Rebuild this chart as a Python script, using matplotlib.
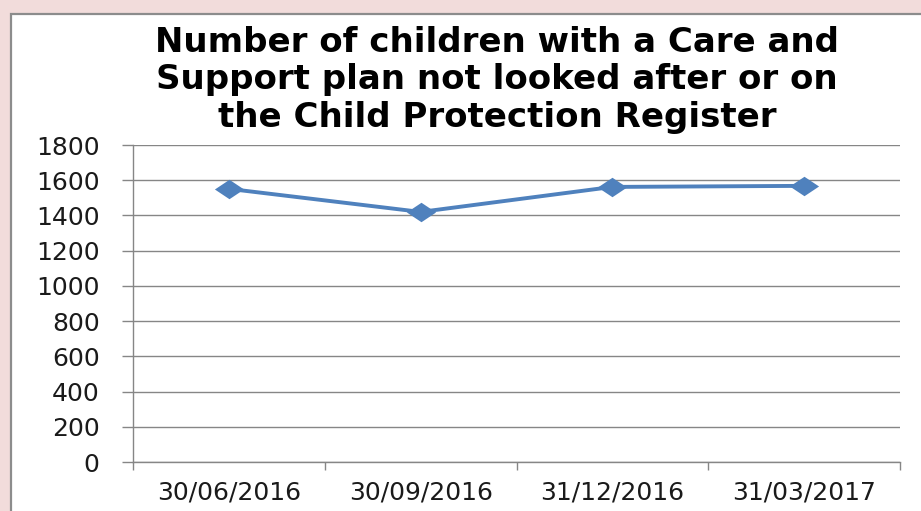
import matplotlib
matplotlib.use("Agg")
import matplotlib.pyplot as plt
from matplotlib.patches import Rectangle
from matplotlib.path import Path

categories = ["30/06/2016", "30/09/2016", "31/12/2016", "31/03/2017"]
values = [1551, 1420, 1562, 1568]
yticks = [0, 200, 400, 600, 800, 1000, 1200, 1400, 1600, 1800]
title_lines = ["Number of children with a Care and",
               "Support plan not looked after or on",
               "the Child Protection Register"]

W, H = 921, 511
fig = plt.figure(figsize=(W / 100, H / 100), dpi=100)
fig.patch.set_facecolor("#f2dcdb")

# chart frame
fig.patches.append(Rectangle((11 / W, -0.1), 1.2, 1 - 14 / H + 0.1,
                             transform=fig.transFigure, facecolor="white",
                             edgecolor="#8c8c8c", linewidth=1.6, zorder=-5))

ax = fig.add_axes([133 / W, 1 - 462 / H, (900 - 133) / W, (462 - 145) / H])
ax.set_facecolor("none")
ax.set_zorder(2)

x = list(range(1, len(categories) + 1))
diamond = Path([(-1.5, 0), (0, 1), (1.5, 0), (0, -1), (-1.5, 0)],
               [Path.MOVETO, Path.LINETO, Path.LINETO, Path.LINETO, Path.CLOSEPOLY])
ax.plot(x, values, color="#4f81bd", linewidth=2.8, marker=diamond,
        markersize=21, markeredgewidth=0, markerfacecolor="#4f81bd",
        solid_joinstyle="round", zorder=3, clip_on=False)

ax.set_xlim(0.5, len(categories) + 0.5)
ax.set_ylim(0, 1800)
ax.set_yticks(yticks)
ax.set_yticklabels([str(v) for v in yticks])
ax.yaxis.grid(True, color="#868686", linewidth=1.0)
ax.set_axisbelow(True)

ax.set_xticks(x)
ax.set_xticklabels(categories)
ax.set_xticks([i + 0.5 for i in range(len(categories) + 1)], minor=True)
ax.tick_params(axis="x", which="major", length=0, pad=13, labelsize=18,
               labelcolor="#1a1a1a")
ax.tick_params(axis="x", which="minor", length=6, width=1.0, color="#868686",
               direction="out")
ax.tick_params(axis="y", length=8, width=1.0, color="#868686", pad=16,
               labelsize=18, labelcolor="#1a1a1a")

for s in ["top", "right"]:
    ax.spines[s].set_visible(False)
for s in ["left", "bottom"]:
    ax.spines[s].set_color("#868686")
    ax.spines[s].set_linewidth(1.0)

ys = [42, 80, 118]
for line, yy in zip(title_lines, ys):
    fig.text(497 / W, 1 - yy / H, line, ha="center", va="center",
             fontsize=24.5, fontweight="bold", color="black")

fig.savefig("out.png", dpi=100, facecolor=fig.get_facecolor())
